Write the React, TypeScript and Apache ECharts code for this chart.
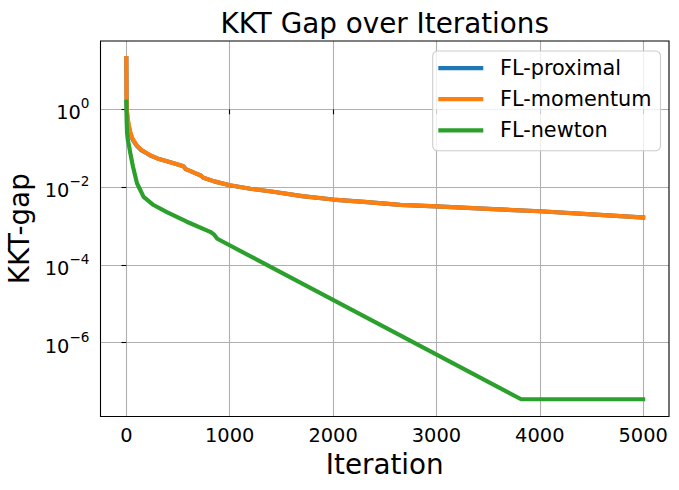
import React, { useEffect, useRef } from "react";
import * as echarts from "echarts";

// ---- data ----
const proximalIter = [0, 2, 5, 12, 22, 35, 55, 80, 103, 140, 183, 232, 300, 425, 530, 555, 575, 700, 720, 745, 850, 1000, 1200, 1422, 1700, 2000, 2300, 2650, 3000, 3500, 4000, 4500, 5000];
const proximalGap = [20.9, 1.8, 0.9, 0.56, 0.38, 0.26, 0.18, 0.14, 0.114, 0.091, 0.078, 0.065, 0.055, 0.044, 0.036, 0.034, 0.029, 0.021, 0.02, 0.0174, 0.0141, 0.0112, 0.0091, 0.0076, 0.0059, 0.0048, 0.0042, 0.0035, 0.0032, 0.00275, 0.0024, 0.002, 0.00166];

const momentumIter = [0, 2, 5, 12, 22, 35, 55, 80, 103, 140, 183, 232, 300, 425, 530, 555, 575, 700, 720, 745, 850, 1000, 1200, 1422, 1700, 2000, 2300, 2650, 3000, 3500, 4000, 4500, 5000];
const momentumGap = [20.9, 2.0, 1.0, 0.63, 0.417, 0.282, 0.19, 0.145, 0.117, 0.093, 0.079, 0.066, 0.055, 0.044, 0.036, 0.034, 0.029, 0.021, 0.02, 0.0174, 0.0141, 0.0112, 0.0091, 0.0076, 0.0059, 0.0048, 0.0042, 0.0035, 0.0032, 0.00275, 0.0024, 0.002, 0.00166];

const newtonIter = [0, 3, 7, 15, 22, 39, 65, 103, 167, 263, 392, 585, 811, 850, 880, 3820, 5000];
const newtonGap = [1.58, 0.5, 0.25, 0.158, 0.132, 0.074, 0.033, 0.0126, 0.0056, 0.00347, 0.00229, 0.00129, 7.1e-4, 6.0e-4, 4.7e-4, 3.5e-8, 3.5e-8];

const xTicks = [0, 1000, 2000, 3000, 4000, 5000];
const yTickExponents = [-6, -4, -2, 0];
const seriesNames = ["FL-proximal", "FL-momentum", "FL-newton"];
const seriesColors = ["#1f77b4", "#ff7f0e", "#2ca02c"];

const FONT = "DejaVu Sans";

const toPairs = (xs: number[], ys: number[]) => xs.map((x, i) => [x, Math.log10(ys[i])]);

export default function App() {
  const ref = useRef<HTMLDivElement>(null);
  useEffect(() => {
    if (!ref.current) return;
    const chart = echarts.init(ref.current, undefined, { renderer: "svg" });
    const gridL = 100.5, gridT = 41, gridR = 669, gridB = 416.5;
    const datasets = [
      toPairs(proximalIter, proximalGap),
      toPairs(momentumIter, momentumGap),
      toPairs(newtonIter, newtonGap),
    ];
    chart.setOption({
      animation: false,
      backgroundColor: "#ffffff",
      textStyle: { fontFamily: FONT },
      grid: {
        left: gridL,
        top: gridT,
        right: 679 - gridR,
        bottom: 490 - gridB,
        containLabel: false,
        outerBoundsMode: "none",
      },
      xAxis: {
        type: "value",
        min: -250,
        max: 5250,
        minInterval: 1000,
        maxInterval: 1000,
        name: "Iteration",
        nameLocation: "middle",
        nameGap: 34,
        nameTextStyle: { fontSize: 27.8, color: "#000", fontFamily: FONT },
        axisLine: { show: false },
        axisTick: { show: true, inside: false, length: 4.9, customValues: xTicks, lineStyle: { color: "#000", width: 1.1 } },
        axisLabel: {
          show: true,
          customValues: xTicks,
          margin: 9,
          fontSize: 19.4,
          color: "#000",
          fontFamily: FONT,
          formatter: (v: number) => String(Math.round(v)),
        },
        splitLine: { show: true, lineStyle: { color: "#b0b0b0", width: 1.1 } },
      },
      yAxis: {
        type: "value",
        min: -7.9,
        max: 1.76,
        minInterval: 2,
        maxInterval: 2,
        name: "KKT-gap",
        nameLocation: "middle",
        nameGap: 64,
        nameRotate: 90,
        nameTextStyle: { fontSize: 27.8, color: "#000", fontFamily: FONT },
        axisLine: { show: false },
        axisTick: { show: true, inside: false, length: 4.9, customValues: yTickExponents, lineStyle: { color: "#000", width: 1.1 } },
        axisLabel: {
          show: true,
          customValues: yTickExponents,
          margin: 11,
          color: "#000",
          formatter: (v: number) => {
            const e = Math.round(v);
            const sup = e === 0 ? "0" : (e < 0 ? "\u2212" : "") + Math.abs(e);
            return `{b|10}{s|${sup}}`;
          },
          rich: {
            b: { fontSize: 19.4, fontFamily: FONT, color: "#000", lineHeight: 26, verticalAlign: "bottom" },
            s: { fontSize: 13.6, fontFamily: FONT, color: "#000", lineHeight: 10, verticalAlign: "top" },
          },
        },
        splitLine: { show: true, lineStyle: { color: "#b0b0b0", width: 1.1 } },
      },
      legend: {
        show: true,
        orient: "vertical",
        left: 432.7,
        top: 51,
        icon: "rect",
        itemWidth: 45,
        itemHeight: 4.2,
        itemGap: 10.1,
        selectedMode: false,
        backgroundColor: "rgba(255,255,255,0.8)",
        borderColor: "#cccccc",
        borderWidth: 1.1,
        borderRadius: 5,
        padding: [6.6, 9, 10, 5.6],
        data: seriesNames,
        formatter: (name: string) => `{t|${name}}`,
        textStyle: {
          fontSize: 20.8,
          color: "#000",
          fontFamily: FONT,
          rich: {
            t: { fontSize: 20.8, fontFamily: FONT, color: "#000", lineHeight: 24, padding: [0, 0, 0, 11.7] },
          },
        },
      },
      graphic: [
        {
          type: "text",
          z: 100,
          style: {
            text: "KKT Gap over Iterations",
            x: (gridL + gridR) / 2,
            y: 23.5,
            textAlign: "center",
            textVerticalAlign: "middle",
            fontSize: 27.8,
            fontFamily: FONT,
            fill: "#000",
          },
        },
        {
          type: "rect",
          z: 100,
          silent: true,
          shape: { x: gridL, y: gridT, width: gridR - gridL, height: gridB - gridT },
          style: { fill: "none", stroke: "#000", lineWidth: 1.1 },
        },
      ],
      series: datasets.map((d, i) => ({
        name: seriesNames[i],
        type: "line",
        data: d,
        showSymbol: false,
        symbol: "none",
        color: seriesColors[i],
        lineStyle: { width: 4.17, color: seriesColors[i], cap: "square", join: "round" },
        z: 2 + i,
      })),
    });
    return () => chart.dispose();
  }, []);
  return <div ref={ref} style={{ position: "absolute", left: 0, top: 0, width: 679, height: 490 }} />;
}
